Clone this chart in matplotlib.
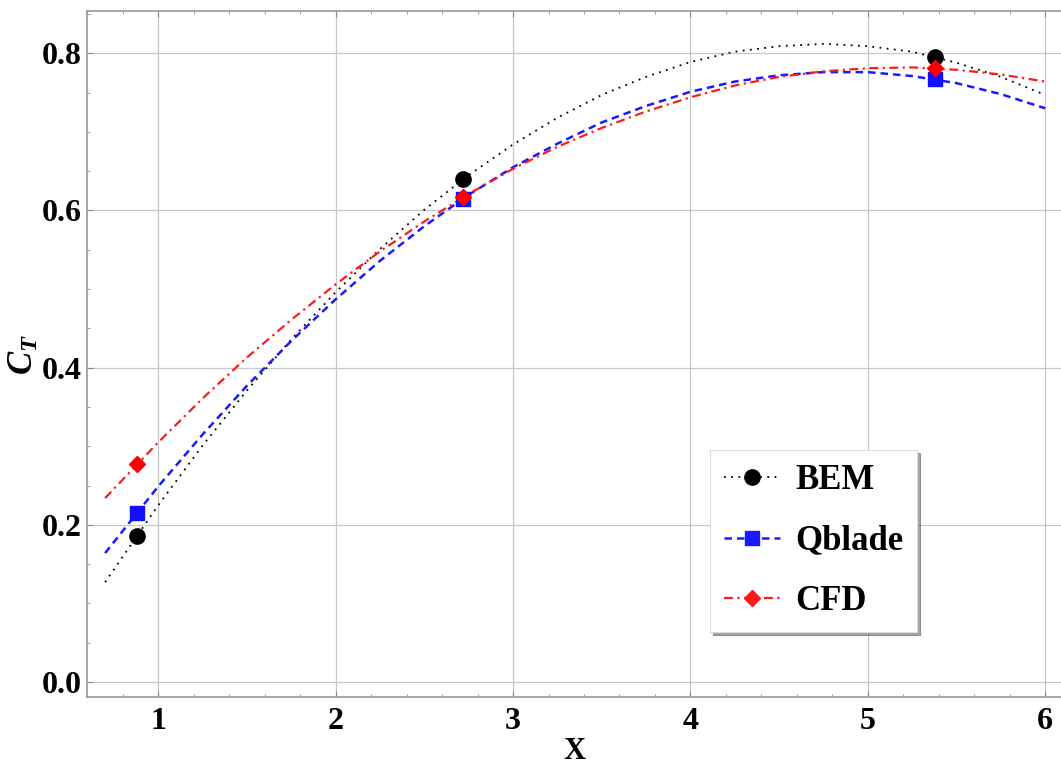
import matplotlib
matplotlib.use('Agg')
import matplotlib.pyplot as plt
from matplotlib.ticker import MultipleLocator

plt.rcParams['font.family'] = 'Liberation Serif'
plt.rcParams['font.weight'] = 'bold'
plt.rcParams['mathtext.fontset'] = 'custom'
plt.rcParams['mathtext.it'] = 'Liberation Serif:italic:bold'
plt.rcParams['mathtext.bfit'] = 'Liberation Serif:italic:bold'
plt.rcParams['mathtext.rm'] = 'Liberation Serif:bold'

# Measured points
x_pts = [0.878, 2.72, 5.378]
bem_pts = [0.186, 0.640, 0.7955]
qblade_pts = [0.215, 0.615, 0.767]
cfd_pts = [0.277, 0.617, 0.781]

# Fitted curves
x_fit = [0.7, 1.0, 1.25, 1.5, 1.75, 2.0, 2.25, 2.5, 2.75, 3.0, 3.25, 3.5,
         3.75, 4.0, 4.25, 4.5, 4.75, 5.0, 5.25, 5.5, 5.75, 6.0]
bem_fit = [0.127, 0.225, 0.301, 0.371, 0.436, 0.496, 0.551, 0.601, 0.645, 0.684,
           0.718, 0.747, 0.770, 0.789, 0.802, 0.809, 0.812, 0.809, 0.802, 0.788,
           0.770, 0.747]
qblade_fit = [0.164, 0.249, 0.315, 0.377, 0.434, 0.487, 0.536, 0.580, 0.620, 0.655,
              0.685, 0.712, 0.733, 0.751, 0.764, 0.772, 0.776, 0.776, 0.771, 0.762,
              0.748, 0.730]
cfd_fit = [0.234, 0.305, 0.361, 0.413, 0.461, 0.506, 0.548, 0.586, 0.621, 0.653,
           0.681, 0.705, 0.726, 0.744, 0.759, 0.770, 0.777, 0.781, 0.782, 0.779,
           0.773, 0.764]

fig = plt.figure(figsize=(10.61, 7.69), dpi=100)
ax = fig.add_axes([0.082, 0.0936, 0.918, 0.8921])

ax.plot(x_fit, bem_fit, color='black', linestyle=(0, (1, 3)), linewidth=1.3)
ax.plot(x_fit, qblade_fit, color='#1a1aff', linestyle=(0, (3, 2)), linewidth=1.8)
ax.plot(x_fit, cfd_fit, color='#ff1a1a', linestyle=(0, (4, 2, 1, 2)), linewidth=1.6)

ax.plot(x_pts, bem_pts, 'o', color='black', markersize=11)
ax.plot(x_pts, qblade_pts, 's', color='#1010ff', markersize=10.5)
ax.plot(x_pts, cfd_pts, 'D', color='#ff0000', markersize=8.5)

# legend handles
h1, = ax.plot([], [], color='black', linestyle=(0, (1, 3)), linewidth=1.3,
              marker='o', markersize=11)
h2, = ax.plot([], [], color='#1a1aff', linestyle=(0, (3, 2)), linewidth=1.8,
              marker='s', markersize=10.5)
h3, = ax.plot([], [], color='#ff1a1a', linestyle=(0, (4, 2, 1, 2)), linewidth=1.6,
              marker='D', markersize=8.5)
leg = ax.legend([h1, h2, h3], ['BEM', 'Qblade', 'CFD'], loc='upper left',
                bbox_to_anchor=(0.6397, 0.360), prop={'size': 25, 'weight': 'bold'},
                fancybox=False, shadow=True, handlelength=1.6, handletextpad=0.45,
                labelspacing=0.8, borderpad=0.4, borderaxespad=0)
leg.get_frame().set_edgecolor('#dddddd')
leg.get_frame().set_linewidth(0.8)

ax.set_xlim(0.598, 6.089)
ax.set_ylim(-0.0191, 0.8538)
ax.xaxis.set_major_locator(MultipleLocator(1))
ax.xaxis.set_minor_locator(MultipleLocator(0.2))
ax.yaxis.set_major_locator(MultipleLocator(0.2))
ax.yaxis.set_minor_locator(MultipleLocator(0.05))
ax.set_yticks([0.0, 0.2, 0.4, 0.6, 0.8])
ax.set_yticklabels(['0.0', '0.2', '0.4', '0.6', '0.8'])

ax.grid(True, which='major', color='#c8c8c8', linewidth=0.9)
ax.set_axisbelow(True)
ax.tick_params(which='both', direction='in', color='#888888', top=True, right=False,
               labelsize=23)
ax.tick_params(axis='y', pad=4)
ax.tick_params(axis='x', pad=7)
ax.tick_params(which='major', length=4)
ax.tick_params(which='minor', length=2.5)
for s in ['left', 'bottom', 'top']:
    ax.spines[s].set_color('#999999')
    ax.spines[s].set_linewidth(1.2)
ax.spines['right'].set_visible(False)

ax.set_xlabel('X', fontsize=22, fontweight='bold', va='center')
ax.xaxis.set_label_coords(0.5, -0.079)
ax.set_ylabel(r'$\mathbfit{C}_{\mathbfit{T}}$', fontsize=25, va='center')
ax.yaxis.set_label_coords(-0.064, 0.5)

fig.savefig('out.png', dpi=100)
